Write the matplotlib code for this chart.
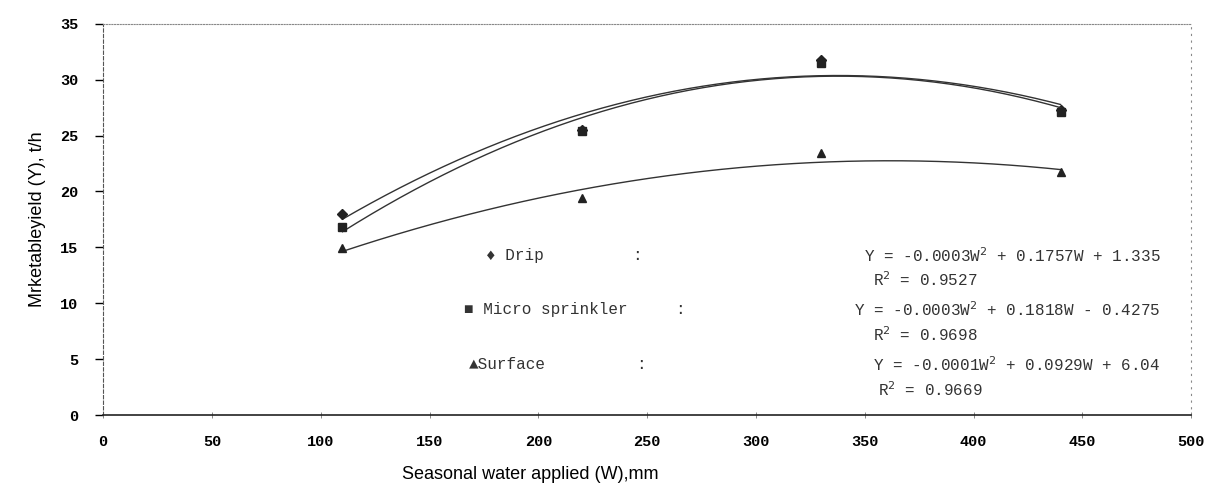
import numpy as np
import matplotlib.pyplot as plt

# Seasonal water applied (mm) and marketable yield (t/h) for each method
water = [110, 220, 330, 440]
drip = [18.0, 25.5, 31.8, 27.3]
micro = [16.8, 25.4, 31.5, 27.1]
surface = [14.9, 19.4, 23.4, 21.7]

x_ticks = [0, 50, 100, 150, 200, 250, 300, 350, 400, 450, 500]
y_ticks = [0, 5, 10, 15, 20, 25, 30, 35]

mono = "Liberation Mono"

fig = plt.figure(figsize=(12.13, 4.86), dpi=100)
ax = fig.add_axes([0.085, 0.146, 0.897, 0.805])

# Quadratic trendlines, like the spreadsheet's polynomial fit
w_fit = np.linspace(water[0], water[-1], 200)
for vals, mk, ms in [(drip, "D", 5), (micro, "s", 6), (surface, "^", 6)]:
    coef = np.polyfit(water, vals, 2)
    ax.plot(w_fit, np.polyval(coef, w_fit), color="#333333", lw=1.0)
    ax.plot(water, vals, linestyle="none", marker=mk, ms=ms, color="#222222")

ax.set_xlim(0, 500)
ax.set_ylim(0, 35)
ax.set_xticks(x_ticks)
ax.set_yticks(y_ticks)
ax.set_xticklabels([str(v) for v in x_ticks], fontfamily=mono,
                   fontweight="bold", fontsize=11)
ax.set_yticklabels([str(v) for v in y_ticks], fontfamily=mono,
                   fontweight="bold", fontsize=11)
ax.tick_params(axis="y", direction="out", length=6, width=1, pad=12)
ax.tick_params(axis="x", direction="inout", length=5, width=0.6,
               color="#777777", pad=12)

ax.spines["left"].set_linestyle((0, (3, 2)))
ax.spines["left"].set_color("#555555")
ax.spines["top"].set_linestyle((0, (1, 1.5)))
ax.spines["top"].set_color("#888888")
ax.spines["right"].set_linestyle((0, (1, 5)))
ax.spines["right"].set_color("#888888")
ax.spines["bottom"].set_color("#222222")
ax.spines["bottom"].set_linewidth(1.2)

ax.set_ylabel("Mrketableyield (Y), t/h", fontfamily="Liberation Sans",
              fontsize=13, labelpad=10)
fig.text(0.437, 0.015, "Seasonal water applied (W),mm",
         fontfamily="Liberation Sans", fontsize=13, ha="center")

# Equation block inside the plot
tk = dict(fontfamily=mono, fontsize=11.5, color="#333333", va="center")
ax.text(176, 14.3, "\u2666 Drip", **tk)
ax.text(243, 14.3, ":", **tk)
ax.text(486, 14.3, "Y = -0.0003W$^2$ + 0.1757W + 1.335", ha="right", **tk)
ax.text(378, 12.1, "R$^2$ = 0.9527", ha="center", **tk)
ax.text(166, 9.4, "\u25a0 Micro sprinkler", **tk)
ax.text(263, 9.4, ":", **tk)
ax.text(486, 9.4, "Y = -0.0003W$^2$ + 0.1818W - 0.4275", ha="right", **tk)
ax.text(378, 7.2, "R$^2$ = 0.9698", ha="center", **tk)
ax.text(168, 4.5, "\u25b2Surface", **tk)
ax.text(245, 4.5, ":", **tk)
ax.text(486, 4.5, "Y = -0.0001W$^2$ + 0.0929W + 6.04", ha="right", **tk)
ax.text(380, 2.3, "R$^2$ = 0.9669", ha="center", **tk)

fig.savefig("out.png", dpi=100)
